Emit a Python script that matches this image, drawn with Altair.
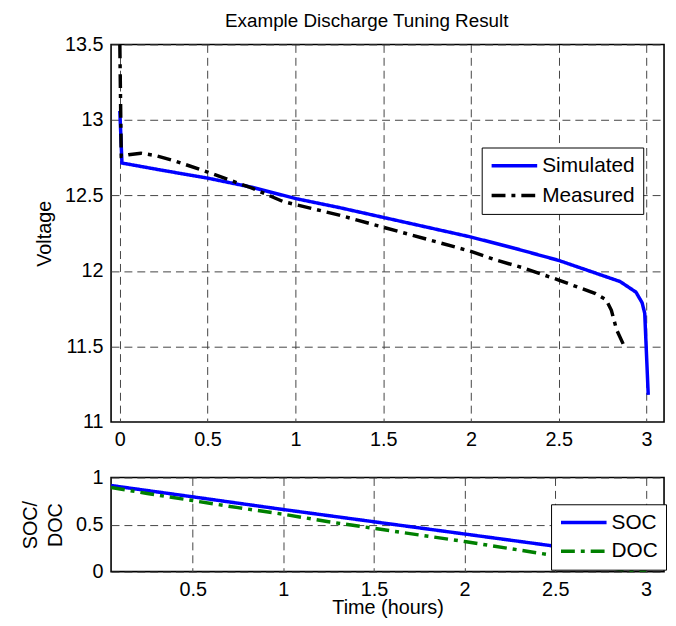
import altair as alt
import pandas as pd

FONT = "Liberation Sans"

# ---- top panel data (Voltage vs time) ----
sim_t = [0.0, 0.012, 0.25, 0.5, 0.75, 1.0, 1.25, 1.5, 1.75, 2.0, 2.25, 2.5,
         2.7, 2.85, 2.94, 2.975, 2.99, 3.01]
sim_v = [13.06, 12.715, 12.665, 12.615, 12.555, 12.48, 12.42, 12.355, 12.29,
         12.225, 12.15, 12.07, 11.99, 11.93, 11.86, 11.79, 11.72, 11.18]

meas_t = [0.0, 0.008, 0.05, 0.12, 0.2, 0.31, 0.5, 0.75, 0.93, 1.0, 1.25, 1.5,
          1.75, 2.0, 2.15, 2.3, 2.5, 2.71, 2.77, 2.80, 2.83, 2.87, 2.89]
meas_v = [13.5, 12.76, 12.77, 12.78, 12.765, 12.73, 12.655, 12.55, 12.46,
          12.44, 12.37, 12.29, 12.21, 12.13, 12.07, 12.02, 11.94, 11.85,
          11.81, 11.74, 11.61, 11.51, 11.49]

# ---- bottom panel data (SOC / DOC) ----
soc_t = [0.05, 0.5, 1.0, 1.5, 2.0, 2.5, 3.0]
soc_v = [0.915, 0.795, 0.66, 0.53, 0.40, 0.27, 0.14]

doc_t = [0.05, 0.25, 0.5, 0.75, 1.0, 1.25, 1.5, 1.75, 2.0, 2.25, 2.5, 2.75,
         2.85, 2.95, 3.0]
doc_v = [0.895, 0.83, 0.755, 0.68, 0.61, 0.53, 0.46, 0.39, 0.32, 0.245, 0.17,
         0.07, 0.025, 0.005, 0.0]

top_series = ["Simulated", "Measured"]
top_colors = ["#0000ff", "#000000"]
bot_series = ["SOC", "DOC"]
bot_colors = ["#0000ff", "#008000"]
dashes = [[1, 0], [14, 6, 4, 6]]

x_top_ticks = [0, 0.5, 1, 1.5, 2, 2.5, 3]
y_top_ticks = [11, 11.5, 12, 12.5, 13, 13.5]
x_bot_ticks = [0.5, 1, 1.5, 2, 2.5, 3]
y_bot_ticks = [0, 0.5, 1]

top_df = pd.concat([
    pd.DataFrame({"t": sim_t, "v": sim_v, "series": "Simulated"}),
    pd.DataFrame({"t": meas_t, "v": meas_v, "series": "Measured"}),
])
bot_df = pd.concat([
    pd.DataFrame({"t": soc_t, "v": soc_v, "series": "SOC"}),
    pd.DataFrame({"t": doc_t, "v": doc_v, "series": "DOC"}),
])


def make_legend(x, y, row_pad):
    return alt.Legend(
        orient="none", legendX=x, legendY=y, title=None,
        strokeColor="black", fillColor="white", padding=8, cornerRadius=0,
        rowPadding=row_pad, symbolType="stroke", symbolSize=2116,
        symbolStrokeWidth=3.5, clipHeight=21, labelFont=FONT,
        labelFontSize=21, labelColor="black", labelOffset=3,
    )


axis_common = dict(
    labelFont=FONT, labelFontSize=20, labelColor="black", titleFont=FONT,
    titleFontSize=20, titleColor="black", titleFontWeight="normal",
    grid=True, gridColor="#444444", gridDash=[8, 5], gridWidth=1,
    domain=False, ticks=False, tickSize=0, labelPadding=8,
    labelFlush=False, labelOverlap=False, labelBound=False,
)

top_legend = make_legend(374, 104, 8)
top_x = alt.X("t:Q", scale=alt.Scale(domain=[-0.05, 3.1], nice=False, zero=False),
              axis=alt.Axis(values=x_top_ticks, format="~g", title=None, **axis_common))
top_y = alt.Y("v:Q", scale=alt.Scale(domain=[11, 13.5], nice=False, zero=False),
              axis=alt.Axis(values=y_top_ticks, format="~g", title="Voltage",
                            titlePadding=10, **axis_common))
top_color = alt.Color("series:N", scale=alt.Scale(domain=top_series, range=top_colors),
                      legend=top_legend)
top_dash = alt.StrokeDash("series:N", scale=alt.Scale(domain=top_series, range=dashes),
                          legend=top_legend)

top_layers = []
for s in top_series:
    top_layers.append(
        alt.Chart(top_df).mark_line(strokeWidth=3.5, clip=True)
        .encode(x=top_x, y=top_y, color=top_color, strokeDash=top_dash)
        .transform_filter(alt.datum.series == s)
    )
top = alt.layer(*top_layers).properties(
    width=558, height=381,
    title=alt.Title("Example Discharge Tuning Result", font=FONT, fontSize=19,
                    fontWeight="normal", color="black", dx=-21, offset=4),
)

bot_legend = make_legend(444, 27, 7)
bot_x = alt.X("t:Q", scale=alt.Scale(domain=[0.05, 3.1], nice=False, zero=False),
              axis=alt.Axis(values=x_bot_ticks, format="~g", title="Time (hours)",
                            titlePadding=-2, **axis_common))
bot_y = alt.Y("v:Q", scale=alt.Scale(domain=[0, 1], nice=False, zero=False),
              axis=alt.Axis(values=y_bot_ticks, format="~g", title=["SOC/", "DOC"],
                            titlePadding=10, titleLineHeight=25, **axis_common))
bot_color = alt.Color("series:N", scale=alt.Scale(domain=bot_series, range=bot_colors),
                      legend=bot_legend)
bot_dash = alt.StrokeDash("series:N", scale=alt.Scale(domain=bot_series, range=dashes),
                          legend=bot_legend)

bot_layers = []
for s in bot_series:
    bot_layers.append(
        alt.Chart(bot_df).mark_line(strokeWidth=3.5, clip=True)
        .encode(x=bot_x, y=bot_y, color=bot_color, strokeDash=bot_dash)
        .transform_filter(alt.datum.series == s)
    )
bottom = alt.layer(*bot_layers).properties(width=558, height=95)

chart = (
    alt.vconcat(top, bottom, spacing=16)
    .resolve_scale(x="independent", y="independent", color="independent",
                   strokeDash="independent")
    .resolve_legend(color="independent", strokeDash="independent")
    .properties(padding={"left": 12, "top": 0, "right": 0, "bottom": 0},
                background="white")
    .configure_view(stroke="black", strokeWidth=1.6)
)

chart.save("out.html", embed_options={"renderer": "svg", "actions": False})
